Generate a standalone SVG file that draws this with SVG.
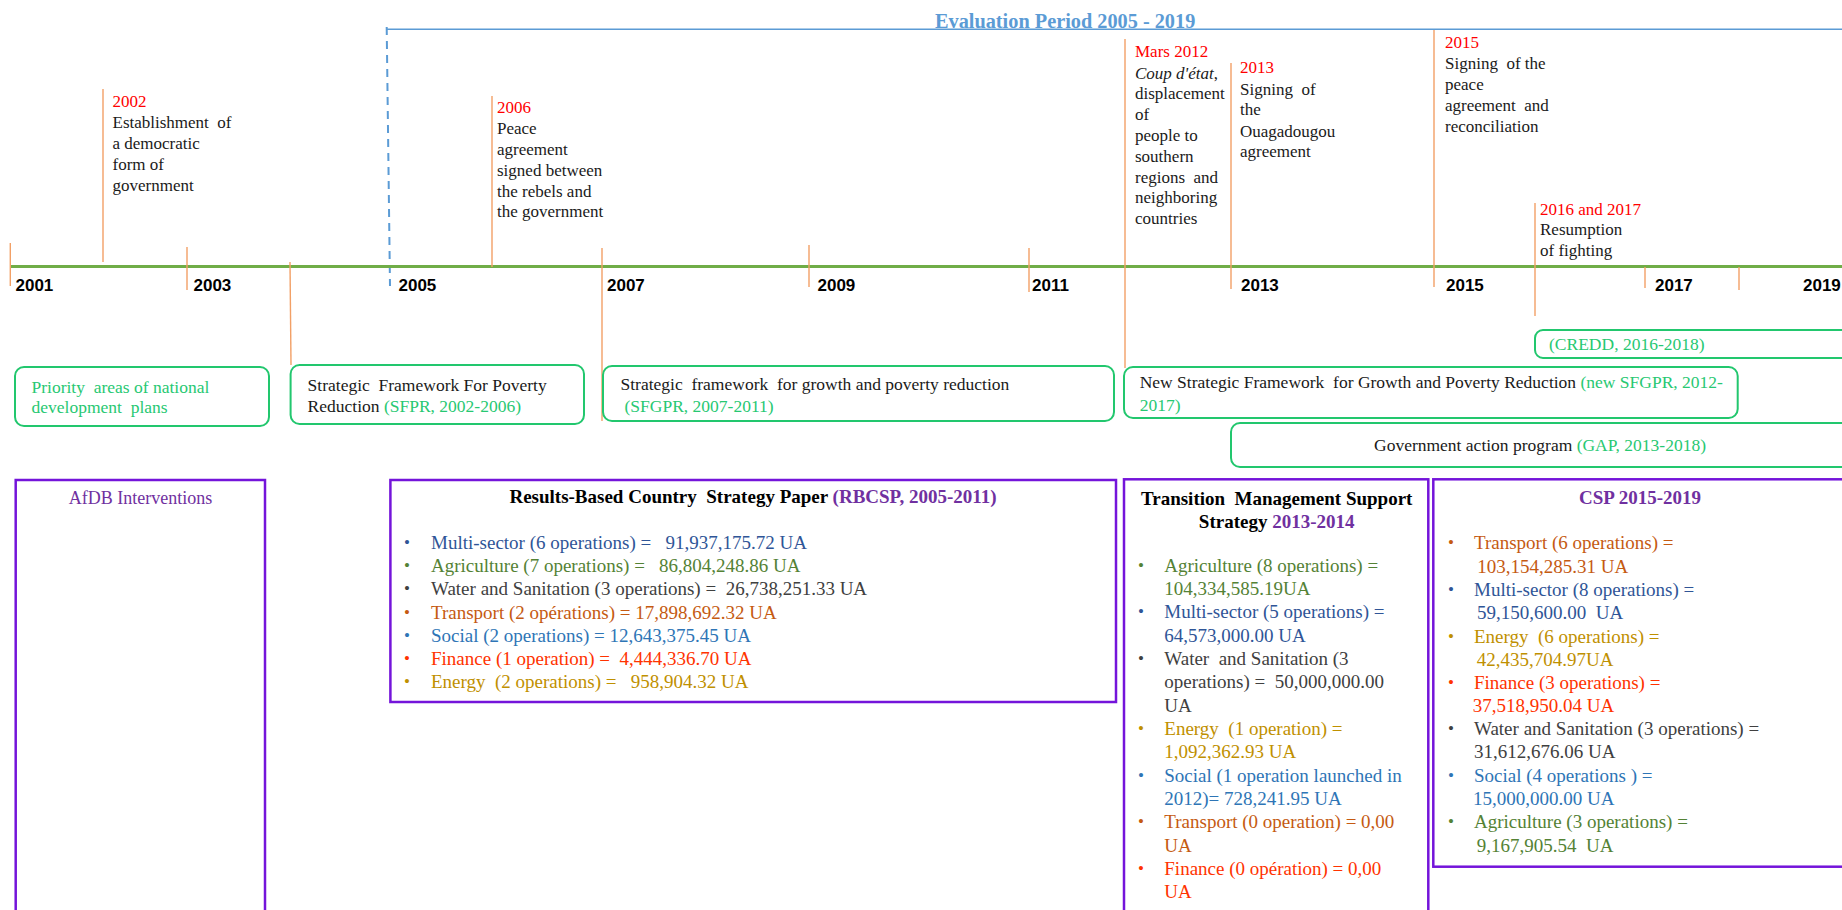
<svg xmlns="http://www.w3.org/2000/svg" width="1842" height="910" viewBox="0 0 1842 910">
<style>
text{font-family:"Liberation Serif","Times New Roman",serif;white-space:pre}
.yr{font-family:"Liberation Sans",Arial,sans-serif;font-weight:bold;font-size:17px;fill:#000}
.ev{font-size:17px;fill:#1a1a1a}
.red{fill:#FF0000}
.tick{stroke:#F2A066;stroke-width:1.4;fill:none}
.gbox{fill:#fff;stroke:#22C76E;stroke-width:2}
.gt{font-size:17.5px;fill:#1a1a1a}
.gr{fill:#27C872}
.pbox{fill:#fff;stroke:#7414DA;stroke-width:2.5}
.ttl{font-size:19px;font-weight:bold;fill:#000}
.pur{fill:#7030A0}
.it{font-size:19px}
.bu{font-size:17px}
.ms{fill:#2F5597}.ag{fill:#548235}.ws{fill:#404040}.tr{fill:#C55A11}.so{fill:#2E75B6}.fi{fill:#FF3300}.en{fill:#BF9000}
</style>
<rect width="1842" height="910" fill="#fff"/>

<g id="connectors">
  <line x1="387" y1="29.3" x2="1842" y2="29.3" stroke="#5B9BD5" stroke-width="1.5"/>
  <line x1="386.7" y1="27" x2="390" y2="286" stroke="#5B9BD5" stroke-width="2" stroke-dasharray="8,6"/>
  <line x1="10" y1="266.5" x2="1842" y2="266.5" stroke="#70AD47" stroke-width="3"/>
  <line class="tick" x1="10.3" y1="243" x2="10.3" y2="286"/>
  <line class="tick" x1="103" y1="89" x2="103" y2="262"/>
  <line class="tick" x1="187" y1="247" x2="187" y2="290"/>
  <line class="tick" x1="290" y1="262" x2="291" y2="365" stroke="#ED7D31"/>
  <line class="tick" x1="492" y1="96" x2="492" y2="267"/>
  <line class="tick" x1="602" y1="248" x2="602" y2="421"/>
  <line class="tick" x1="809" y1="245" x2="809" y2="287"/>
  <line class="tick" x1="1029" y1="248" x2="1029" y2="292"/>
  <line class="tick" x1="1125" y1="39" x2="1125" y2="368"/>
  <line class="tick" x1="1231" y1="63" x2="1231" y2="289"/>
  <line class="tick" x1="1434" y1="30" x2="1434" y2="287"/>
  <line class="tick" x1="1535" y1="203" x2="1535" y2="316"/>
  <line class="tick" x1="1645" y1="267" x2="1645" y2="288"/>
  <line class="tick" x1="1739" y1="267" x2="1739" y2="290"/>
</g>

<g id="title">
  <text x="935" y="27.5" font-size="20.3" font-weight="bold" fill="#5B9BD5">Evaluation Period 2005 - 2019</text>
</g>

<g id="years">
  <text class="yr" x="15.5" y="291">2001</text>
  <text class="yr" x="193.5" y="291">2003</text>
  <text class="yr" x="398.5" y="291">2005</text>
  <text class="yr" x="607" y="291">2007</text>
  <text class="yr" x="817.5" y="291">2009</text>
  <text class="yr" x="1032" y="291">2011</text>
  <text class="yr" x="1241" y="291">2013</text>
  <text class="yr" x="1446" y="291">2015</text>
  <text class="yr" x="1655" y="291">2017</text>
  <text class="yr" x="1803" y="291">2019</text>
</g>

<g id="event-2002">
  <text class="ev red" x="112.5" y="107">2002</text>
  <text class="ev" x="112.5" y="128">Establishment  of</text>
  <text class="ev" x="112.5" y="149">a democratic</text>
  <text class="ev" x="112.5" y="170">form of</text>
  <text class="ev" x="112.5" y="191">government</text>
</g>
<g id="event-2006">
  <text class="ev red" x="497" y="113">2006</text>
  <text class="ev" x="497" y="134">Peace</text>
  <text class="ev" x="497" y="155">agreement</text>
  <text class="ev" x="497" y="176">signed between</text>
  <text class="ev" x="497" y="197">the rebels and</text>
  <text class="ev" x="497" y="217">the government</text>
</g>
<g id="event-2012">
  <text class="ev red" x="1135" y="57">Mars 2012</text>
  <text class="ev" x="1135" y="79"><tspan font-style="italic">Coup d'état</tspan>,</text>
  <text class="ev" x="1135" y="99">displacement</text>
  <text class="ev" x="1135" y="120">of</text>
  <text class="ev" x="1135" y="141">people to</text>
  <text class="ev" x="1135" y="162">southern</text>
  <text class="ev" x="1135" y="183">regions  and</text>
  <text class="ev" x="1135" y="203">neighboring</text>
  <text class="ev" x="1135" y="224">countries</text>
</g>
<g id="event-2013">
  <text class="ev red" x="1240" y="73">2013</text>
  <text class="ev" x="1240" y="95">Signing  of</text>
  <text class="ev" x="1240" y="115">the</text>
  <text class="ev" x="1240" y="137">Ouagadougou</text>
  <text class="ev" x="1240" y="157">agreement</text>
</g>
<g id="event-2015">
  <text class="ev red" x="1445" y="48">2015</text>
  <text class="ev" x="1445" y="69">Signing  of the</text>
  <text class="ev" x="1445" y="90">peace</text>
  <text class="ev" x="1445" y="111">agreement  and</text>
  <text class="ev" x="1445" y="132">reconciliation</text>
</g>
<g id="event-2016">
  <text class="ev red" x="1540" y="215">2016 and 2017</text>
  <text class="ev" x="1540" y="235">Resumption</text>
  <text class="ev" x="1540" y="256">of fighting</text>
</g>

<g id="priority-areas">
  <rect class="gbox" x="15" y="367" width="254" height="59" rx="9"/>
  <text class="gt gr" x="31.5" y="393">Priority  areas of national</text>
  <text class="gt gr" x="31.5" y="413">development  plans</text>
</g>
<g id="sfpr">
  <rect class="gbox" x="290.6" y="365" width="293.4" height="59" rx="9"/>
  <text class="gt" x="307.6" y="391">Strategic  Framework For Poverty</text>
  <text class="gt" x="307.6" y="412">Reduction <tspan class="gr">(SFPR, 2002-2006)</tspan></text>
</g>
<g id="sfgpr">
  <rect class="gbox" x="603" y="366" width="511" height="55" rx="9"/>
  <text class="gt" x="620.5" y="390">Strategic  framework  for growth and poverty reduction</text>
  <text class="gt gr" x="624.5" y="412">(SFGPR, 2007-2011)</text>
</g>
<g id="new-sfgpr">
  <rect class="gbox" x="1124" y="367" width="613.7" height="51" rx="9"/>
  <text class="gt" x="1139.7" y="388">New Strategic Framework  for Growth and Poverty Reduction <tspan class="gr">(new SFGPR, 2012-</tspan></text>
  <text class="gt gr" x="1139.7" y="411">2017)</text>
</g>
<g id="credd">
  <rect class="gbox" x="1535" y="330" width="330" height="28" rx="8"/>
  <text class="gt gr" x="1549" y="350">(CREDD, 2016-2018)</text>
</g>
<g id="gap">
  <rect class="gbox" x="1231" y="423" width="630" height="44" rx="9"/>
  <text class="gt" x="1374" y="451">Government action program <tspan class="gr">(GAP, 2013-2018)</tspan></text>
</g>

<g id="afdb">
  <rect class="pbox" x="15.7" y="480" width="249.3" height="460"/>
  <text x="140.5" y="504" font-size="18" text-anchor="middle" class="pur">AfDB Interventions</text>
</g>

<g id="rbcsp">
  <rect class="pbox" x="390.4" y="480" width="725.6" height="222"/>
  <text class="ttl" x="753" y="503" text-anchor="middle">Results-Based Country  Strategy Paper <tspan class="pur">(RBCSP, 2005-2011)</tspan></text>
  <g class="bu">
    <text class="ms" x="404" y="548">•</text>
    <text class="ag" x="404" y="571">•</text>
    <text class="ws" x="404" y="594">•</text>
    <text class="tr" x="404" y="618">•</text>
    <text class="so" x="404" y="641">•</text>
    <text class="fi" x="404" y="664">•</text>
    <text class="en" x="404" y="687">•</text>
  </g>
  <text class="it ms" x="431" y="549">Multi-sector (6 operations) =   91,937,175.72 UA</text>
  <text class="it ag" x="431" y="572">Agriculture (7 operations) =   86,804,248.86 UA</text>
  <text class="it ws" x="431" y="595">Water and Sanitation (3 operations) =  26,738,251.33 UA</text>
  <text class="it tr" x="431" y="619">Transport (2 opérations) = 17,898,692.32 UA</text>
  <text class="it so" x="431" y="642">Social (2 operations) = 12,643,375.45 UA</text>
  <text class="it fi" x="431" y="665">Finance (1 operation) =  4,444,336.70 UA</text>
  <text class="it en" x="431" y="688">Energy  (2 operations) =   958,904.32 UA</text>
</g>

<g id="transition">
  <rect class="pbox" x="1124" y="479.3" width="304.3" height="460"/>
  <text class="ttl" x="1276.7" y="505" text-anchor="middle">Transition  Management Support</text>
  <text class="ttl" x="1276.7" y="528" text-anchor="middle">Strategy <tspan class="pur">2013-2014</tspan></text>
  <g class="bu">
    <text class="ag" x="1138" y="571">•</text>
    <text class="ms" x="1138" y="617">•</text>
    <text class="ws" x="1138" y="664">•</text>
    <text class="en" x="1138" y="734">•</text>
    <text class="so" x="1138" y="781">•</text>
    <text class="tr" x="1138" y="827">•</text>
    <text class="fi" x="1138" y="874">•</text>
  </g>
  <text class="it ag" x="1164.3" y="572">Agriculture (8 operations) =</text>
  <text class="it ag" x="1164.3" y="595">104,334,585.19UA</text>
  <text class="it ms" x="1164.3" y="618">Multi-sector (5 operations) =</text>
  <text class="it ms" x="1164.3" y="642">64,573,000.00 UA</text>
  <text class="it ws" x="1164.3" y="665">Water  and Sanitation (3</text>
  <text class="it ws" x="1164.3" y="688">operations) =  50,000,000.00</text>
  <text class="it ws" x="1164.3" y="712">UA</text>
  <text class="it en" x="1164.3" y="735">Energy  (1 operation) =</text>
  <text class="it en" x="1164.3" y="758">1,092,362.93 UA</text>
  <text class="it so" x="1164.3" y="782">Social (1 operation launched in</text>
  <text class="it so" x="1164.3" y="805">2012)= 728,241.95 UA</text>
  <text class="it tr" x="1164.3" y="828">Transport (0 operation) = 0,00</text>
  <text class="it tr" x="1164.3" y="852">UA</text>
  <text class="it fi" x="1164.3" y="875">Finance (0 opération) = 0,00</text>
  <text class="it fi" x="1164.3" y="898">UA</text>
</g>

<g id="csp">
  <rect class="pbox" x="1433.3" y="479.3" width="420" height="387.4"/>
  <text class="ttl pur" x="1640" y="504" text-anchor="middle">CSP 2015-2019</text>
  <g class="bu">
    <text class="tr" x="1448" y="548">•</text>
    <text class="ms" x="1448" y="595">•</text>
    <text class="en" x="1448" y="642">•</text>
    <text class="fi" x="1448" y="688">•</text>
    <text class="ws" x="1448" y="734">•</text>
    <text class="so" x="1448" y="781">•</text>
    <text class="ag" x="1448" y="827">•</text>
  </g>
  <text class="it tr" x="1474" y="549.3">Transport (6 operations) =</text>
  <text class="it tr" x="1477.3" y="572.7">103,154,285.31 UA</text>
  <text class="it ms" x="1474" y="596">Multi-sector (8 operations) =</text>
  <text class="it ms" x="1477" y="619">59,150,600.00  UA</text>
  <text class="it en" x="1474" y="642.7">Energy  (6 operations) =</text>
  <text class="it en" x="1476.7" y="666">42,435,704.97UA</text>
  <text class="it fi" x="1474" y="689">Finance (3 operations) =</text>
  <text class="it fi" x="1472.7" y="711.7">37,518,950.04 UA</text>
  <text class="it ws" x="1474" y="735">Water and Sanitation (3 operations) =</text>
  <text class="it ws" x="1474" y="758">31,612,676.06 UA</text>
  <text class="it so" x="1474" y="781.7">Social (4 operations ) =</text>
  <text class="it so" x="1473" y="805">15,000,000.00 UA</text>
  <text class="it ag" x="1474" y="828">Agriculture (3 operations) =</text>
  <text class="it ag" x="1476.7" y="851.7">9,167,905.54  UA</text>
</g>
</svg>
